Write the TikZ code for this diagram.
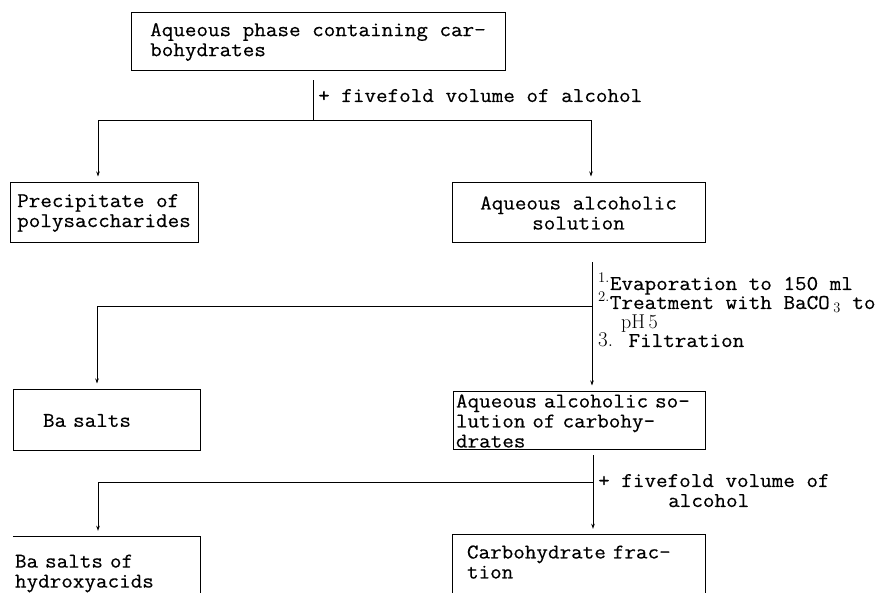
\documentclass[tikz,border=0pt]{standalone}
\usepackage{fontspec}
\usetikzlibrary{arrows.meta}
\newfontfamily\dgtt[FakeStretch=1.07,FakeBold=0.4]{Latin Modern Mono}
\newcommand{\dgfont}{\dgtt\fontsize{21}{20}\selectfont}
\begin{document}
\begin{tikzpicture}[x=1pt,y=-1pt,
  every node/.style={font=\dgfont, inner ysep=0pt, inner xsep=3pt},
  frame/.style={draw, line width=1pt},
  conn/.style={line width=0.9pt},
  arr/.style={conn, -{Stealth[length=5pt,width=3.5pt]}, shorten >=6pt},
  lbl/.style={anchor=base west, inner xsep=0pt},
  rmsmall/.style={font=\rmfamily\fontsize{20}{20}\selectfont}]
\useasboundingbox[fill=white] (0,0) rectangle (887,593);
\coordinate (pb) at (0,593);

% boxes
\node[frame, minimum width=374pt, minimum height=58pt, align=left] (n1) at (318,42)
  {Aqueous phase containing car-\\bohydrates};
\node[frame, minimum width=188pt, minimum height=60pt, align=left] (n2) at (104,213)
  {Precipitate of\\polysaccharides};
\node[frame, minimum width=253pt, minimum height=60pt, align=center] (n3) at (578.5,213)
  {Aqueous alcoholic\\solution};
\node[frame, minimum height=61pt, text width=127pt, inner xsep=30pt, align=left] (n4) at (106.5,420.5)
  {Ba salts};
\node[frame, minimum height=58pt, text width=246pt, inner xsep=3pt, align=left] (n5) at (579,421)
  {Aqueous alcoholic so-\\lution of carbohy-\\drates};
\node[minimum height=73pt, text width=183pt, inner xsep=2pt, align=left] (n6) at (106.5,573.5)
  {Ba salts of\\hydroxyacids};
\node[minimum height=54pt, text width=224pt, inner xsep=14pt, align=left] (n7) at (579,562)
  {Carbohydrate frac-\\tion};
\draw[frame] (n6.north west) -- (n6.north east) -- (n6.north east |- pb);
\draw[frame] (n7.north west |- pb) -- (n7.north west) -- (n7.north east) -- (n7.north east |- pb);

% first split
\coordinate (j1) at (313,120);
\coordinate (a2) at (98,120);
\coordinate (a3) at (591,120);
\draw[conn] ([yshift=-9pt]n1.south -| j1) -- (j1);
\draw[arr] (j1) -- (a2) -- (a2 |- n2.north);
\draw[arr] (j1) -- (a3) -- (a3 |- n3.north);
\node[lbl] (l1) at (318,102) {+ fivefold volume of alcohol};

% second split
\coordinate (j2) at (592,306);
\coordinate (a4) at (97,306);
\draw[conn] ([yshift=-19pt]n3.south -| j2) -- (j2);
\draw[arr] (j2) -- (j2 |- n5.north);
\draw[arr] (j2) -- (a4) -- (a4 |- n4.north);
\node[lbl] (s1) at (598,290) {\textsuperscript{\rmfamily 1.}Evaporation to 150 ml};
\node[lbl] (s2) at (598,309) {\textsuperscript{\rmfamily 2.}Treatment with BaCO\,$_{3}$ to};
\node[lbl, rmsmall] (s3) at (621,329) {pH\,5};
\node[lbl] (s4) at (598,347) {{\rmfamily 3.} Filtration};

% third split
\coordinate (j3) at (593,482);
\coordinate (a5) at (98,482);
\draw[conn] ([yshift=-5pt]n5.south -| j3) -- (j3);
\draw[arr] (j3) -- (j3 |- n7.north);
\draw[arr] (j3) -- (a5) -- (a5 |- n6.north);
\node[lbl] (l3a) at (598,487) {+ fivefold volume of};
\node[lbl] (l3b) at (668,507) {alcohol};
\end{tikzpicture}
\end{document}
